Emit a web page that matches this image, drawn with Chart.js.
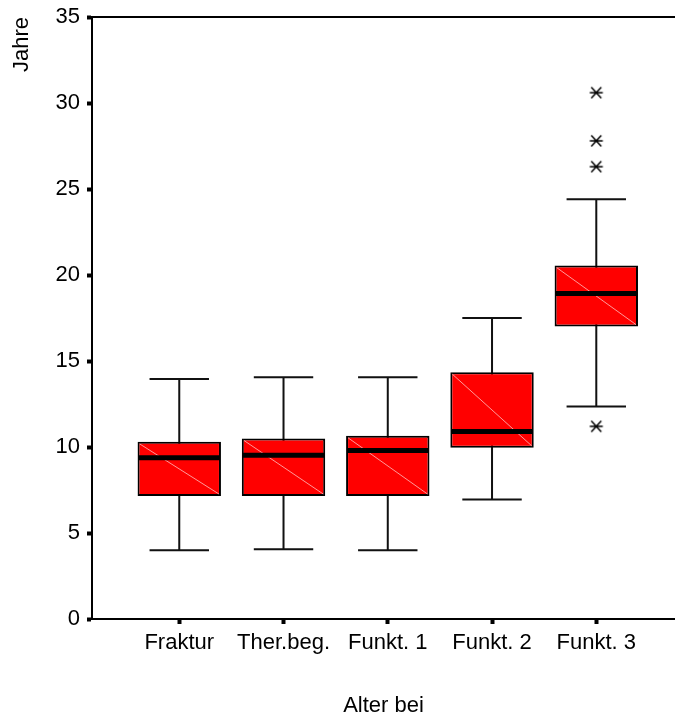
<!DOCTYPE html>
<html>
<head>
    <meta charset="utf-8" />
    <title>Alter bei</title>
    <script src="https://cdn.jsdelivr.net/npm/chart.js"></script>
    <style>
        body { margin: 0; background: #fff; }
        canvas { display: block; }
    </style>
</head>
<body>
    <canvas id="myChart" width="675" height="719"></canvas>

    <script>
        // Boxplot: Alter (Jahre) bei Fraktur / Therapiebeginn / Funktionsstufen
        const categorias = ['Fraktur', 'Ther.beg.', 'Funkt. 1', 'Funkt. 2', 'Funkt. 3'];
        const bigoteInf = [4.0, 4.05, 4.0, 6.95, 12.35];
        const cuartil1 = [7.15, 7.15, 7.15, 9.95, 17.0];
        const mediana = [9.38, 9.52, 9.8, 10.9, 18.92];
        const cuartil3 = [10.3, 10.5, 10.65, 14.35, 20.55];
        const bigoteSup = [13.95, 14.05, 14.05, 17.5, 24.4];

        // extremos (solo Funkt. 3)
        const atipicosCat = [4, 4, 4, 4];
        const atipicosValor = [30.6, 27.8, 26.3, 11.2];

        const yTicks = [0, 5, 10, 15, 20, 25, 30, 35];

        const fuente = { family: '"Liberation Sans", Arial, sans-serif', size: 22 };

        // asterisco para los extremos
        const asterisco = document.createElement('canvas');
        asterisco.width = 16;
        asterisco.height = 16;
        (function () {
            const c = asterisco.getContext('2d');
            c.strokeStyle = '#000';
            c.lineWidth = 1.5;
            c.beginPath();
            c.moveTo(1.5, 8); c.lineTo(14.5, 8);
            c.moveTo(3, 2.5); c.lineTo(13, 13.5);
            c.moveTo(3, 13.5); c.lineTo(13, 2.5);
            c.stroke();
        })();

        const cajas = {
            id: 'cajas',
            beforeDatasetsDraw(chart) {
                const { ctx, scales: { x, y } } = chart;
                ctx.save();
                ctx.strokeStyle = '#111';
                ctx.lineWidth = 2;
                categorias.forEach((c, i) => {
                    const cx = x.getPixelForValue(i);
                    const x0 = x.getPixelForValue(i - 0.285);
                    const x1 = x.getPixelForValue(i + 0.285);
                    const yLo = y.getPixelForValue(bigoteInf[i]);
                    const yHi = y.getPixelForValue(bigoteSup[i]);
                    ctx.beginPath();
                    ctx.moveTo(cx, yLo); ctx.lineTo(cx, yHi);
                    ctx.moveTo(x0, yLo); ctx.lineTo(x1, yLo);
                    ctx.moveTo(x0, yHi); ctx.lineTo(x1, yHi);
                    ctx.stroke();
                });
                ctx.restore();
            },
            afterDatasetsDraw(chart) {
                const { ctx, scales: { y } } = chart;
                const meta = chart.getDatasetMeta(0);
                ctx.save();
                meta.data.forEach((bar, i) => {
                    const l = bar.x - bar.width / 2 + 2;
                    const r = bar.x + bar.width / 2 - 2;
                    const top = Math.min(bar.y, bar.base) + 2;
                    const bottom = Math.max(bar.y, bar.base) - 2;
                    // linea diagonal clara dentro de la caja
                    ctx.strokeStyle = 'rgba(255,170,170,0.9)';
                    ctx.lineWidth = 1;
                    ctx.beginPath();
                    ctx.moveTo(l, top);
                    ctx.lineTo(r, bottom);
                    ctx.stroke();
                    // mediana
                    const ym = y.getPixelForValue(mediana[i]);
                    ctx.strokeStyle = '#000';
                    ctx.lineWidth = 5;
                    ctx.beginPath();
                    ctx.moveTo(l - 1, ym);
                    ctx.lineTo(r + 1, ym);
                    ctx.stroke();
                });
                ctx.restore();
            }
        };

        const data = {
            datasets: [{
                type: 'bar',
                data: categorias.map((c, i) => ({ x: i, y: [cuartil1[i], cuartil3[i]] })),
                backgroundColor: '#ff0000',
                borderColor: '#000',
                borderWidth: 2,
                borderSkipped: false,
                barPercentage: 0.8,
                categoryPercentage: 1,
                grouped: false
            }, {
                type: 'scatter',
                data: atipicosCat.map((c, i) => ({ x: c, y: atipicosValor[i] })),
                pointStyle: asterisco,
                pointRadius: 8
            }]
        };

        const sinRelleno = (s) => { s.paddingLeft = 0; s.paddingRight = 0; };

        const config = {
            type: 'bar',
            data,
            plugins: [cajas],
            options: {
                responsive: false,
                devicePixelRatio: 1,
                animation: false,
                layout: { autoPadding: false, padding: { top: 17, right: 0, bottom: 0, left: 0 } },
                plugins: { legend: { display: false }, tooltip: { enabled: false } },
                scales: {
                    x: {
                        type: 'linear',
                        position: 'bottom',
                        min: -0.837,
                        max: 4.755,
                        offset: false,
                        afterBuildTicks: (s) => { s.ticks = categorias.map((c, i) => ({ value: i })); },
                        afterFit: (s) => { s.height = 100; sinRelleno(s); },
                        ticks: {
                            callback: (v) => categorias[v],
                            autoSkip: false,
                            maxRotation: 0,
                            color: '#000',
                            font: fuente,
                            padding: 6
                        },
                        grid: { display: true, offset: false, drawOnChartArea: false, tickLength: 5, tickWidth: 4, tickColor: '#000' },
                        border: { display: true, color: '#000', width: 2 },
                        title: { display: true, text: 'Alter bei', color: '#000', font: fuente, padding: { top: 0, bottom: 0 } }
                    },
                    xTop: {
                        type: 'linear',
                        position: 'top',
                        min: 0,
                        max: 1,
                        afterFit: (s) => { s.height = 0; sinRelleno(s); },
                        ticks: { display: false },
                        grid: { display: false },
                        border: { display: true, color: '#000', width: 2 }
                    },
                    y: {
                        min: 0,
                        max: 35,
                        afterBuildTicks: (s) => { s.ticks = yTicks.map(v => ({ value: v })); },
                        afterFit: (s) => { s.width = 92; s.paddingTop = 0; s.paddingBottom = 0; },
                        ticks: { color: '#000', font: fuente, padding: 7 },
                        grid: { display: true, drawOnChartArea: false, tickLength: 5, tickWidth: 4, tickColor: '#000' },
                        border: { display: true, color: '#000', width: 2 },
                        title: { display: true, text: 'Jahre', align: 'end', color: '#000', font: fuente, padding: { top: 9 } }
                    }
                }
            }
        };

        var myChart = new Chart(document.getElementById('myChart'), config);
    </script>
</body>
</html>
